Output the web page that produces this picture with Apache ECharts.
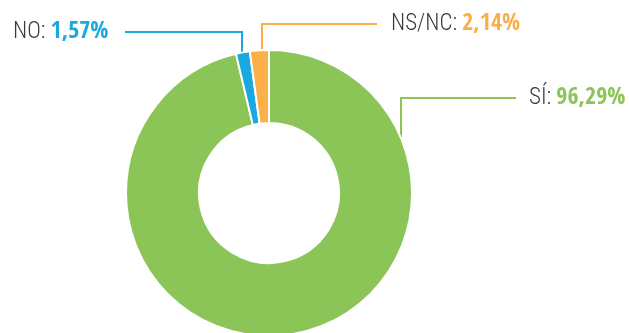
<!DOCTYPE html>
<html>
<head>
<meta charset="utf-8">
<script src="https://cdn.jsdelivr.net/npm/echarts@6/dist/echarts.min.js"></script>
<style>
  html, body { margin: 0; padding: 0; background: #fff; }
  #chart { width: 629px; height: 333px; }
</style>
</head>
<body>
<div id="chart"></div>
<script>
// Survey answers, share of responses (%)
const categories = ['SÍ', 'NO', 'NS/NC'];
const shares = [96.29, 1.57, 2.14];
const sliceColors = ['#8BC557', '#19A8E0', '#FBAF48'];

// Donut geometry (px)
const CX = 269, CY = 193, R_OUT = 143, R_IN = 70;

// Where each callout sits: text anchor, x where the leader line ends,
// and the x where the leader meets the ring
const callouts = [
  { textX: 529, textY: 98, lineEndX: 516, ringX: 401 },
  { textX: 13,  textY: 32, lineEndX: 125, ringX: 242 },
  { textX: 391, textY: 24, lineEndX: 377, ringX: 262 }
];

const fmt = v => v.toFixed(2).replace('.', ',') + '%';

const chart = echarts.init(document.getElementById('chart'), null, { renderer: 'canvas' });

chart.setOption({
  backgroundColor: '#ffffff',
  animation: false,
  series: [{
    type: 'pie',
    center: [CX, CY],
    radius: [R_IN, R_OUT],
    startAngle: 90,
    clockwise: true,
    avoidLabelOverlap: false,
    itemStyle: { borderColor: '#ffffff', borderWidth: 2 },
    data: categories.map((name, i) => ({
      name: name,
      value: shares[i],
      itemStyle: { color: sliceColors[i] },
      label: {
        rich: {
          v: {
            color: sliceColors[i],
            fontFamily: '"Open Sans Condensed", "Roboto Condensed", sans-serif',
            fontWeight: 'bold',
            fontSize: 24
          }
        }
      },
      labelLine: { lineStyle: { color: sliceColors[i] } }
    })),
    label: {
      show: true,
      position: 'outside',
      formatter: p => '{n|' + p.name + ': }{v|' + fmt(p.value) + '}',
      rich: {
        n: {
          color: '#3b3b3b',
          fontFamily: '"Roboto Condensed", sans-serif',
          fontWeight: 300,
          fontSize: 23
        }
      }
    },
    labelLine: {
      show: true,
      length: 10,
      length2: 10,
      lineStyle: { width: 2 }
    },
    labelLayout: function (params) {
      const c = callouts[params.dataIndex];
      const dx = c.ringX - CX;
      const ringY = CY - Math.sqrt(R_OUT * R_OUT - dx * dx);
      return {
        x: c.textX,
        y: c.textY,
        align: 'left',
        verticalAlign: 'middle',
        labelLinePoints: [
          [c.ringX, ringY],
          [c.ringX, c.textY],
          [c.lineEndX, c.textY]
        ]
      };
    }
  }]
});
</script>
</body>
</html>
